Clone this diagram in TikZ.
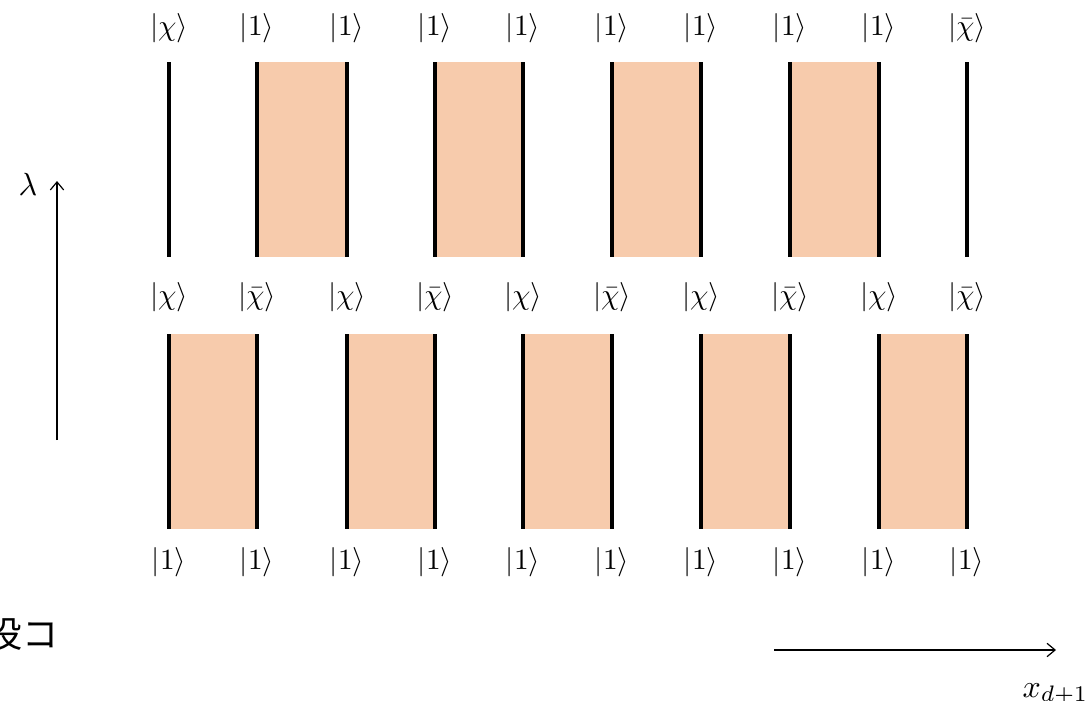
\documentclass[tikz,border=0pt]{standalone}
\usepackage{fontspec}
\newfontfamily\cjk{Noto Sans CJK JP}
\usetikzlibrary{arrows.meta}
\definecolor{peach}{HTML}{F7CBAC}
\begin{document}
\begin{tikzpicture}[x=0.75pt,y=-0.75pt,
  wire/.style={line width=2.4pt,black},
  band/.style={fill=peach,draw=none},
  ket/.style={font=\normalsize,inner sep=0pt,scale=2.2},
  axis/.style={line width=0.9pt,-{Straight Barb[length=6pt,width=10pt]}}]
\useasboundingbox (0,0) rectangle (1089,700);
% column positions
\def\cols{169,257,347,435,523,612,701,790,879,967}
% top row
\foreach \x/\l [count=\i] in {169/{|\chi\rangle},257/{|1\rangle},347/{|1\rangle},435/{|1\rangle},523/{|1\rangle},612/{|1\rangle},701/{|1\rangle},790/{|1\rangle},879/{|1\rangle},967/{|\bar\chi\rangle}}
  \node[ket] (t\i) at (\x,28) {$\l$};
\foreach \a/\b in {257/347,435/523,612/701,790/879}{
  \fill[band] (\a,62) rectangle (\b,257);
  \draw[wire] (\a,62) -- (\a,257);
  \draw[wire] (\b,62) -- (\b,257);
}
\draw[wire] (169,62) coordinate (s1) -- (169,257) coordinate (s2);
\draw[wire] (967,62) coordinate (s3) -- (967,257) coordinate (s4);
% middle row
\foreach \x/\l [count=\i] in {169/{|\chi\rangle},257/{|\bar\chi\rangle},347/{|\chi\rangle},435/{|\bar\chi\rangle},523/{|\chi\rangle},612/{|\bar\chi\rangle},701/{|\chi\rangle},790/{|\bar\chi\rangle},879/{|\chi\rangle},967/{|\bar\chi\rangle}}
  \node[ket] (m\i) at (\x,297) {$\l$};
\foreach \a/\b in {169/257,347/435,523/612,701/790,879/967}{
  \fill[band] (\a,334) rectangle (\b,529);
  \draw[wire] (\a,334) -- (\a,529);
  \draw[wire] (\b,334) -- (\b,529);
}
% bottom row
\foreach \x [count=\i] in \cols
  \node[ket] (b\i) at (\x,562) {$|1\rangle$};
% axes
\coordinate (la) at (57,440);
\coordinate (lb) at (57,181);
\draw[axis] (la) -- (lb);
\node[inner sep=0pt,scale=2.4] (lam) at (28,184) {$\lambda$};
\coordinate (xa) at (774,650);
\coordinate (xb) at (1056,650);
\draw[axis] (xa) -- (xb);
\node[inner sep=0pt,anchor=base west,scale=2.4] (xd) at (1022,697) {$x_{d+1}$};
\node[font=\fontsize{27}{30}\selectfont\cjk,inner sep=0pt,anchor=east] (cj) at (59,634) {役コ};
\end{tikzpicture}
\end{document}
